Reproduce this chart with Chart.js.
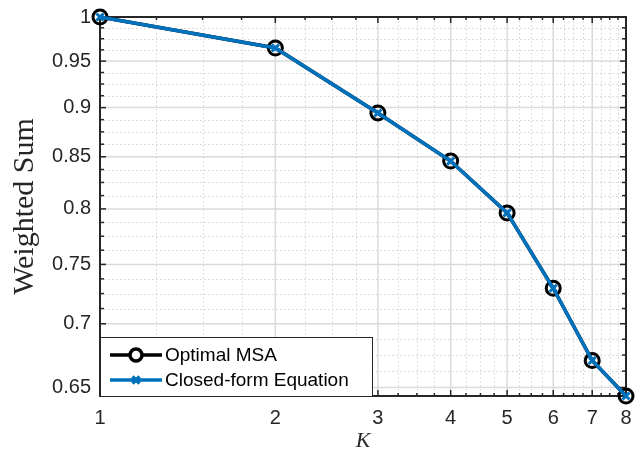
<!DOCTYPE html>
<html>
<head>
<meta charset="utf-8">
<script src="https://cdn.jsdelivr.net/npm/chart.js@4.4.1/dist/chart.umd.min.js"></script>
<style>
html, body { margin: 0; padding: 0; background: #fff; }
#wrap { width: 639px; height: 450px; position: relative; }
</style>
</head>
<body>
<div id="wrap"><canvas id="wsChart"></canvas></div>
<script>
// values
var kValues = [1, 2, 3, 4, 5, 6, 7, 8];
var optimalMSA = [1.0, 0.9646, 0.8944, 0.8458, 0.7963, 0.7295, 0.6707, 0.6436];
var closedForm = [1.0, 0.9646, 0.8944, 0.8458, 0.7963, 0.7295, 0.6707, 0.6436];

var xTickLabels = [1, 2, 3, 4, 5, 6, 7, 8];
var yTickLabels = [0.65, 0.7, 0.75, 0.8, 0.85, 0.9, 0.95, 1];
var yMin = 0.6436;
var yMax = 1;

var axisColor = '#262626';

// minor ticks: quarter steps on x, 0.0125 steps on y
var xMinor = [];
for (var i = 4; i <= 32; i++) {
    if (i % 4 !== 0) xMinor.push(i / 4);
}
var yMinor = [];
for (var j = 52; j <= 80; j++) {
    if (j % 4 !== 0 && j * 0.0125 >= yMin) yMinor.push(j * 0.0125);
}

function toPoints(xs, ys) {
    return xs.map(function(x, i) { return { x: x, y: ys[i] }; });
}

// MATLAB-like grid, box and inward ticks
var matlabAxes = {
    id: 'matlabAxes',
    beforeDatasetsDraw: function(chart) {
        var ctx = chart.ctx;
        var a = chart.chartArea;
        var xs = chart.scales.x, ys = chart.scales.y;
        ctx.save();

        // minor dotted grid
        ctx.strokeStyle = '#d4d4d4';
        ctx.lineWidth = 1;
        ctx.setLineDash([1.5, 2.5]);
        xMinor.forEach(function(v) {
            var px = Math.round(xs.getPixelForValue(v)) + 0.5;
            ctx.beginPath(); ctx.moveTo(px, a.top); ctx.lineTo(px, a.bottom); ctx.stroke();
        });
        yMinor.forEach(function(v) {
            var py = Math.round(ys.getPixelForValue(v)) + 0.5;
            ctx.beginPath(); ctx.moveTo(a.left, py); ctx.lineTo(a.right, py); ctx.stroke();
        });

        // major solid grid
        ctx.setLineDash([]);
        ctx.strokeStyle = '#dadada';
        ctx.lineWidth = 1.5;
        xTickLabels.forEach(function(v) {
            var px = xs.getPixelForValue(v);
            ctx.beginPath(); ctx.moveTo(px, a.top); ctx.lineTo(px, a.bottom); ctx.stroke();
        });
        yTickLabels.forEach(function(v) {
            var py = ys.getPixelForValue(v);
            ctx.beginPath(); ctx.moveTo(a.left, py); ctx.lineTo(a.right, py); ctx.stroke();
        });

        // tick marks on all four sides
        ctx.strokeStyle = axisColor;
        ctx.lineWidth = 1.5;
        function xTick(v, len) {
            var px = xs.getPixelForValue(v);
            ctx.beginPath(); ctx.moveTo(px, a.bottom); ctx.lineTo(px, a.bottom - len); ctx.stroke();
            ctx.beginPath(); ctx.moveTo(px, a.top); ctx.lineTo(px, a.top + len); ctx.stroke();
        }
        function yTick(v, len) {
            var py = ys.getPixelForValue(v);
            ctx.beginPath(); ctx.moveTo(a.left, py); ctx.lineTo(a.left + len, py); ctx.stroke();
            ctx.beginPath(); ctx.moveTo(a.right, py); ctx.lineTo(a.right - len, py); ctx.stroke();
        }
        xMinor.forEach(function(v) { xTick(v, 3); });
        xTickLabels.forEach(function(v) { xTick(v, 6); });
        yMinor.forEach(function(v) { yTick(v, 4); });
        yTickLabels.forEach(function(v) { yTick(v, 6); });

        // box
        ctx.lineWidth = 2;
        ctx.strokeRect(a.left, a.top, a.right - a.left, a.bottom - a.top);
        ctx.restore();
    },
    afterDraw: function(chart) {
        // legend box in the lower-left corner of the axes
        var ctx = chart.ctx;
        var a = chart.chartArea;
        var left = a.left, right = 373, top = 337, bottom = a.bottom;
        ctx.save();
        ctx.fillStyle = '#fff';
        ctx.fillRect(left, top, right - left, bottom - top);
        ctx.strokeStyle = axisColor;
        ctx.lineWidth = 1;
        ctx.strokeRect(left + 0.5, top + 0.5, right - left - 1, bottom - top);

        chart.data.datasets.forEach(function(ds, i) {
            var y = 355 + i * 25;
            ctx.strokeStyle = ds.borderColor;
            ctx.lineWidth = ds.borderWidth;
            ctx.beginPath(); ctx.moveTo(110, y); ctx.lineTo(162, y); ctx.stroke();
            ctx.strokeStyle = ds.pointBorderColor;
            Chart.helpers.drawPoint(ctx, {
                pointStyle: ds.pointStyle,
                radius: ds.legendRadius,
                borderWidth: ds.pointBorderWidth,
                rotation: 0
            }, 136, y);
            ctx.fillStyle = '#000';
            ctx.font = '19px "Liberation Sans", Arial, sans-serif';
            ctx.textAlign = 'left';
            ctx.textBaseline = 'middle';
            ctx.fillText(ds.label, 165, y + 1);
        });
        ctx.restore();
    }
};

var chart = new Chart(document.getElementById('wsChart'), {
    type: 'line',
    data: {
        datasets: [
            {
                label: 'Optimal MSA',
                data: toPoints(kValues, optimalMSA),
                borderColor: '#000',
                borderWidth: 3.5,
                pointStyle: 'circle',
                pointRadius: 7,
                legendRadius: 6,
                pointBorderWidth: 3,
                pointBorderColor: '#000',
                pointBackgroundColor: 'rgba(0,0,0,0)',
                clip: false,
                order: 1
            },
            {
                label: 'Closed-form Equation',
                data: toPoints(kValues, closedForm),
                borderColor: '#0072BD',
                borderWidth: 3.5,
                pointStyle: 'crossRot',
                pointRadius: 5,
                legendRadius: 5,
                pointBorderWidth: 3,
                pointBorderColor: '#0072BD',
                pointBackgroundColor: '#0072BD',
                clip: false,
                order: 0
            }
        ]
    },
    options: {
        responsive: true,
        maintainAspectRatio: false,
        animation: false,
        layout: { padding: { top: 17, right: 13, bottom: 0, left: 0 } },
        plugins: {
            legend: { display: false },
            tooltip: { enabled: false }
        },
        elements: { line: { tension: 0 } },
        scales: {
            x: {
                type: 'logarithmic',
                position: 'bottom',
                min: 1,
                max: 8,
                bounds: 'data',
                grid: { display: false, drawTicks: false },
                border: { display: false },
                ticks: {
                    autoSkip: false,
                    maxRotation: 0,
                    padding: 10,
                    color: axisColor,
                    font: { family: 'Liberation Sans', size: 20 },
                    callback: function(v) { return String(v); }
                },
                title: {
                    display: true,
                    text: 'K',
                    color: axisColor,
                    font: { family: 'Liberation Serif', style: 'italic', size: 22, lineHeight: 0.8 },
                    padding: 0
                },
                afterBuildTicks: function(s) {
                    s.ticks = xTickLabels.map(function(v) { return { value: v }; });
                },
                afterFit: function(s) {
                    s.height = 54;
                    s.paddingLeft = 0;
                    s.paddingRight = 0;
                }
            },
            y: {
                type: 'logarithmic',
                min: yMin,
                max: yMax,
                bounds: 'data',
                grid: { display: false, drawTicks: false },
                border: { display: false },
                ticks: {
                    autoSkip: false,
                    padding: 9,
                    color: axisColor,
                    font: { family: 'Liberation Sans', size: 20 },
                    callback: function(v) { return String(v); }
                },
                title: {
                    display: true,
                    text: 'Weighted Sum',
                    color: axisColor,
                    font: { family: 'Liberation Serif', size: 30 },
                    padding: { top: 7, bottom: 0 }
                },
                afterBuildTicks: function(s) {
                    s.ticks = yTickLabels.map(function(v) { return { value: v }; });
                },
                afterFit: function(s) {
                    s.width = 100;
                    s.paddingTop = 0;
                    s.paddingBottom = 0;
                }
            }
        }
    },
    plugins: [matlabAxes]
});
</script>
</body>
</html>
